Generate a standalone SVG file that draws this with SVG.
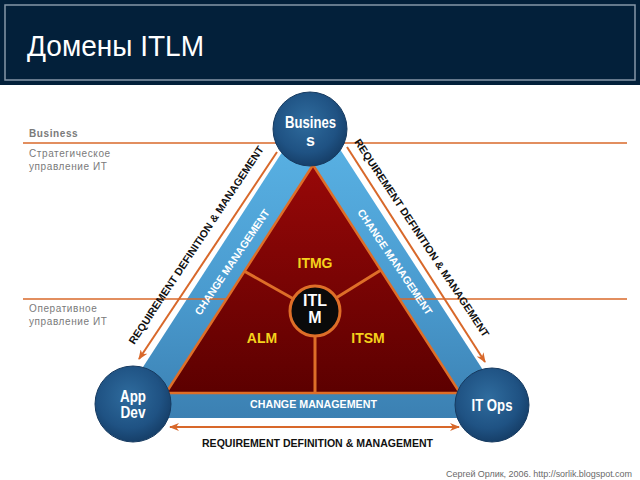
<svg xmlns="http://www.w3.org/2000/svg" width="640" height="480" viewBox="0 0 640 480">
<defs>
<linearGradient id="blueG" x1="0" y1="106" x2="0" y2="418" gradientUnits="userSpaceOnUse">
<stop offset="0" stop-color="#5cb6e8"/>
<stop offset="0.6" stop-color="#4a9bcf"/>
<stop offset="1" stop-color="#3b80b2"/>
</linearGradient>
<linearGradient id="redG" x1="0" y1="165" x2="0" y2="393" gradientUnits="userSpaceOnUse">
<stop offset="0" stop-color="#980808"/>
<stop offset="1" stop-color="#5c0000"/>
</linearGradient>
<radialGradient id="circG" cx="0.45" cy="0.4" r="0.6">
<stop offset="0" stop-color="#2f6c9e"/>
<stop offset="0.7" stop-color="#1f5283"/>
<stop offset="1" stop-color="#163f69"/>
</radialGradient>
<marker id="arr" viewBox="0 0 10 8" refX="9" refY="4" markerWidth="10" markerHeight="8" markerUnits="userSpaceOnUse" orient="auto-start-reverse">
<path d="M0,0 L10,4 L0,8 L3,4 z" fill="#d8682a"/>
</marker>
<style>
.sep{stroke:#d8682a;stroke-width:1.6;fill:none}
.arrline{stroke:#d8682a;stroke-width:2;fill:none}
.div{stroke:#de6e28;stroke-width:3;fill:none}
.lbl{font-family:"Liberation Sans",Arial,sans-serif;fill:#7a7a7a;font-size:10px;letter-spacing:0.6px}
.req{font-family:"Liberation Sans",Arial,sans-serif;font-weight:bold;font-size:10.5px;fill:#111}
.chg{font-family:"Liberation Sans",Arial,sans-serif;font-weight:bold;font-size:10.5px;fill:#ffffff}
.dom{font-family:"Liberation Sans",Arial,sans-serif;font-weight:bold;font-size:14px;fill:#f5d21c;text-anchor:middle}
.node{font-family:"Liberation Sans",Arial,sans-serif;font-weight:bold;font-size:16px;fill:#ffffff;text-anchor:middle}
.circ{fill:url(#circG);stroke:#163a60;stroke-width:1}
</style>
</defs>
<rect x="0" y="0" width="640" height="480" fill="#ffffff"/>
<g id="header">
<rect x="0" y="0" width="640" height="85" fill="#03203a"/>
<rect x="5" y="5" width="630" height="75" fill="none" stroke="#8796a8" stroke-width="1.5"/>
<text x="27" y="56" font-family="Liberation Sans, Arial, sans-serif" font-size="30" fill="#ffffff" textLength="177" lengthAdjust="spacingAndGlyphs">Домены ITLM</text>
</g>
<g id="outer-band">
<polygon points="312,106 110,418 514,418" fill="url(#blueG)"/>
</g>
<g id="layers">
<line class="sep" x1="23" y1="143" x2="627" y2="143"/>
<line class="sep" x1="23" y1="299" x2="627" y2="299"/>
<text class="lbl" x="29" y="137" font-weight="bold" letter-spacing="0.3">Business</text>
<text class="lbl" x="29" y="157">Стратегическое</text>
<text class="lbl" x="29" y="170">управление ИТ</text>
<text class="lbl" x="29" y="312">Оперативное</text>
<text class="lbl" x="29" y="325">управление ИТ</text>
</g>
<g id="connectors">
<line class="arrline" x1="277" y1="152" x2="139" y2="359" marker-end="url(#arr)"/>
<line class="arrline" x1="347" y1="147" x2="485" y2="362" marker-end="url(#arr)"/>
<line class="arrline" x1="170" y1="427" x2="459" y2="427" marker-start="url(#arr)" marker-end="url(#arr)"/>
</g>
<g id="itlm-triangle">
<polygon points="313,165 166,393 460,393" fill="url(#redG)" stroke="#de6e28" stroke-width="2.5" stroke-linejoin="round"/>
<line class="div" x1="244" y1="271" x2="315" y2="311"/>
<line class="div" x1="381" y1="270" x2="315" y2="311"/>
<line class="div" x1="315" y1="311" x2="315" y2="393"/>
</g>
<g id="itmg"><text class="dom" x="315" y="268">ITMG</text></g>
<g id="alm"><text class="dom" x="262" y="343">ALM</text></g>
<g id="itsm"><text class="dom" x="368" y="343">ITSM</text></g>
<g id="itlm">
<circle cx="315" cy="311" r="25" fill="#0a0a0a" stroke="#de6e28" stroke-width="3"/>
<text class="node" x="315" y="306" font-size="15">ITL</text>
<text class="node" x="315" y="323" font-size="15">M</text>
</g>
<g id="band-labels">
<text class="chg" text-anchor="middle" x="313.5" y="408" textLength="127" lengthAdjust="spacingAndGlyphs">CHANGE MANAGEMENT</text>
<text class="chg" text-anchor="middle" transform="translate(232,262) rotate(-56)" x="0" y="3.8" textLength="125" lengthAdjust="spacingAndGlyphs">CHANGE MANAGEMENT</text>
<text class="chg" text-anchor="middle" transform="translate(395,262) rotate(56)" x="0" y="3.8" textLength="125" lengthAdjust="spacingAndGlyphs">CHANGE MANAGEMENT</text>
<text class="req" text-anchor="middle" x="317.5" y="447" textLength="231" lengthAdjust="spacingAndGlyphs">REQUIREMENT DEFINITION &amp; MANAGEMENT</text>
<text class="req" text-anchor="middle" transform="translate(196,245) rotate(-56.5)" x="0" y="3.8" textLength="235" lengthAdjust="spacingAndGlyphs">REQUIREMENT DEFINITION &amp; MANAGEMENT</text>
<text class="req" text-anchor="middle" transform="translate(422,238) rotate(56.5)" x="0" y="3.8" textLength="235" lengthAdjust="spacingAndGlyphs">REQUIREMENT DEFINITION &amp; MANAGEMENT</text>
</g>
<g id="business">
<circle class="circ" cx="310" cy="129" r="37"/>
<text class="node" x="310.5" y="128" font-size="15" textLength="51" lengthAdjust="spacingAndGlyphs">Busines</text>
<text class="node" x="310.5" y="146" font-size="15">s</text>
</g>
<g id="appdev">
<circle class="circ" cx="133" cy="404" r="38"/>
<text class="node" x="133" y="402" textLength="26" lengthAdjust="spacingAndGlyphs">App</text>
<text class="node" x="133" y="418" textLength="25" lengthAdjust="spacingAndGlyphs">Dev</text>
</g>
<g id="itops">
<circle class="circ" cx="492" cy="405" r="37"/>
<text class="node" x="492" y="411" textLength="41" lengthAdjust="spacingAndGlyphs">IT Ops</text>
</g>
<text x="632" y="477" text-anchor="end" font-family="Liberation Sans, Arial, sans-serif" font-size="9" fill="#6a6a6a" textLength="186" lengthAdjust="spacing">Сергей Орлик, 2006. http://sorlik.blogspot.com</text>
</svg>
